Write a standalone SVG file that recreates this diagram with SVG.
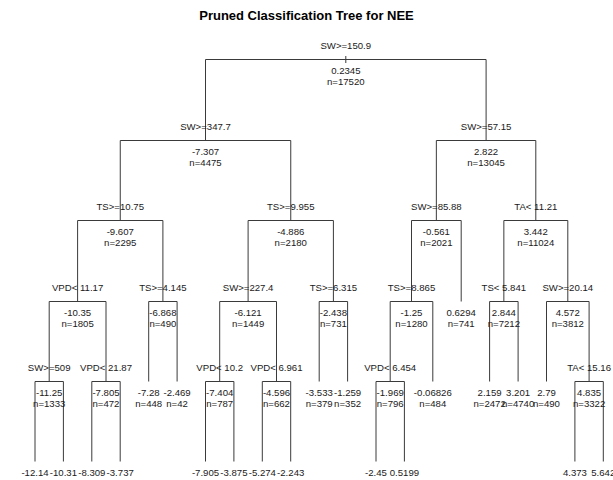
<svg xmlns="http://www.w3.org/2000/svg" width="613" height="480" viewBox="0 0 613 480">
<style>
text{font-family:"Liberation Sans",Arial,sans-serif;font-size:9.6px;fill:#1a1a1a;text-anchor:middle}
.title{font-size:13px;font-weight:bold;fill:#000}
#connectors path{stroke:#3a3a3a;stroke-width:1;fill:none}
</style>
<defs>
<clipPath id="topclip"><rect x="0" y="43" width="613" height="440"/></clipPath>
</defs>
<rect width="613" height="480" fill="#fff"/>
<text class="title" x="306.5" y="20">Pruned Classification Tree for NEE</text>
<g id="connectors">
<path d="M345.8 56V63M205.5 59.5H486.1M205.5 59.5V140.5M486.1 59.5V140.5"/>
<path d="M120.25 140.5H290.75M436.35 140.5H535.8M120.25 140.5V220.5M290.75 140.5V220.5M436.35 140.5V220.5M535.8 140.5V220.5"/>
<path d="M77.6 220.5H162.9M248.1 220.5H333.4M411.5 220.5H461.2M503.85 220.5H567.8M77.6 220.5V301.5M162.9 220.5V301.5M248.1 220.5V301.5M333.4 220.5V301.5M411.5 220.5V301.5M461.2 220.5V301.5M503.85 220.5V301.5M567.8 220.5V301.5"/>
<path d="M49.2 301.5H106M148.7 301.5H177.1M219.7 301.5H276.5M319.2 301.5H347.6M390.2 301.5H432.8M489.6 301.5H518.1M546.5 301.5H589.1M49.2 301.5V381.5M106 301.5V381.5M148.7 301.5V381.5M177.1 301.5V381.5M219.7 301.5V381.5M276.5 301.5V381.5M319.2 301.5V381.5M347.6 301.5V381.5M390.2 301.5V381.5M432.8 301.5V381.5M489.6 301.5V381.5M518.1 301.5V381.5M546.5 301.5V381.5M589.1 301.5V381.5"/>
<path d="M35 381.5H63.4M91.8 381.5H120.2M205.5 381.5H233.9M262.3 381.5H290.7M376 381.5H404.4M574.9 381.5H603.3M35 381.5V461.5M63.4 381.5V461.5M91.8 381.5V461.5M120.2 381.5V461.5M205.5 381.5V461.5M233.9 381.5V461.5M262.3 381.5V461.5M290.7 381.5V461.5M376 381.5V461.5M404.4 381.5V461.5M574.9 381.5V461.5M603.3 381.5V461.5"/>
</g>
<g id="n1"><text x="345.8" y="48.5" clip-path="url(#topclip)">SW&gt;=150.9</text><text x="345.8" y="74">0.2345</text><text x="345.8" y="85">n=17520</text></g>
<g id="n2"><text x="205.5" y="129.5">SW&gt;=347.7</text><text x="205.5" y="155">-7.307</text><text x="205.5" y="166">n=4475</text></g>
<g id="n3"><text x="486.1" y="129.5">SW&gt;=57.15</text><text x="486.1" y="155">2.822</text><text x="486.1" y="166">n=13045</text></g>
<g id="n4"><text x="120.25" y="209.5">TS&gt;=10.75</text><text x="120.25" y="235">-9.607</text><text x="120.25" y="246">n=2295</text></g>
<g id="n5"><text x="290.75" y="209.5">TS&gt;=9.955</text><text x="290.75" y="235">-4.886</text><text x="290.75" y="246">n=2180</text></g>
<g id="n6"><text x="436.35" y="209.5">SW&gt;=85.88</text><text x="436.35" y="235">-0.561</text><text x="436.35" y="246">n=2021</text></g>
<g id="n7"><text x="535.8" y="209.5">TA&lt; 11.21</text><text x="535.8" y="235">3.442</text><text x="535.8" y="246">n=11024</text></g>
<g id="n8"><text x="77.6" y="290.5">VPD&lt; 11.17</text><text x="77.6" y="316">-10.35</text><text x="77.6" y="327">n=1805</text></g>
<g id="n9"><text x="162.9" y="290.5">TS&gt;=4.145</text><text x="162.9" y="316">-6.868</text><text x="162.9" y="327">n=490</text></g>
<g id="n10"><text x="248.1" y="290.5">SW&gt;=227.4</text><text x="248.1" y="316">-6.121</text><text x="248.1" y="327">n=1449</text></g>
<g id="n11"><text x="333.4" y="290.5">TS&gt;=6.315</text><text x="333.4" y="316">-2.438</text><text x="333.4" y="327">n=731</text></g>
<g id="n12"><text x="411.5" y="290.5">TS&gt;=8.865</text><text x="411.5" y="316">-1.25</text><text x="411.5" y="327">n=1280</text></g>
<g id="n13"><text x="461.2" y="316">0.6294</text><text x="461.2" y="327">n=741</text></g>
<g id="n14"><text x="503.85" y="290.5">TS&lt; 5.841</text><text x="503.85" y="316">2.844</text><text x="503.85" y="327">n=7212</text></g>
<g id="n15"><text x="567.8" y="290.5">SW&gt;=20.14</text><text x="567.8" y="316">4.572</text><text x="567.8" y="327">n=3812</text></g>
<g id="n16"><text x="49.2" y="370.5">SW&gt;=509</text><text x="49.2" y="396">-11.25</text><text x="49.2" y="407">n=1333</text></g>
<g id="n17"><text x="106" y="370.5">VPD&lt; 21.87</text><text x="106" y="396">-7.805</text><text x="106" y="407">n=472</text></g>
<g id="n18"><text x="148.7" y="396">-7.28</text><text x="148.7" y="407">n=448</text></g>
<g id="n19"><text x="177.1" y="396">-2.469</text><text x="177.1" y="407">n=42</text></g>
<g id="n20"><text x="219.7" y="370.5">VPD&lt; 10.2</text><text x="219.7" y="396">-7.404</text><text x="219.7" y="407">n=787</text></g>
<g id="n21"><text x="276.5" y="370.5">VPD&lt; 6.961</text><text x="276.5" y="396">-4.596</text><text x="276.5" y="407">n=662</text></g>
<g id="n22"><text x="319.2" y="396">-3.533</text><text x="319.2" y="407">n=379</text></g>
<g id="n23"><text x="347.6" y="396">-1.259</text><text x="347.6" y="407">n=352</text></g>
<g id="n24"><text x="390.2" y="370.5">VPD&lt; 6.454</text><text x="390.2" y="396">-1.969</text><text x="390.2" y="407">n=796</text></g>
<g id="n25"><text x="432.8" y="396">-0.06826</text><text x="432.8" y="407">n=484</text></g>
<g id="n26"><text x="489.6" y="396">2.159</text><text x="489.6" y="407">n=2472</text></g>
<g id="n27"><text x="518.1" y="396">3.201</text><text x="518.1" y="407">n=4740</text></g>
<g id="n28"><text x="546.5" y="396">2.79</text><text x="546.5" y="407">n=490</text></g>
<g id="n29"><text x="589.1" y="370.5">TA&lt; 15.16</text><text x="589.1" y="396">4.835</text><text x="589.1" y="407">n=3322</text></g>
<g id="n30"><text x="35" y="476">-12.14</text></g>
<g id="n31"><text x="63.4" y="476">-10.31</text></g>
<g id="n32"><text x="91.8" y="476">-8.309</text></g>
<g id="n33"><text x="120.2" y="476">-3.737</text></g>
<g id="n34"><text x="205.5" y="476">-7.905</text></g>
<g id="n35"><text x="233.9" y="476">-3.875</text></g>
<g id="n36"><text x="262.3" y="476">-5.274</text></g>
<g id="n37"><text x="290.7" y="476">-2.243</text></g>
<g id="n38"><text x="376" y="476">-2.45</text></g>
<g id="n39"><text x="404.4" y="476">0.5199</text></g>
<g id="n40"><text x="574.9" y="476">4.373</text></g>
<g id="n41"><text x="603.3" y="476">5.642</text></g>
</svg>
